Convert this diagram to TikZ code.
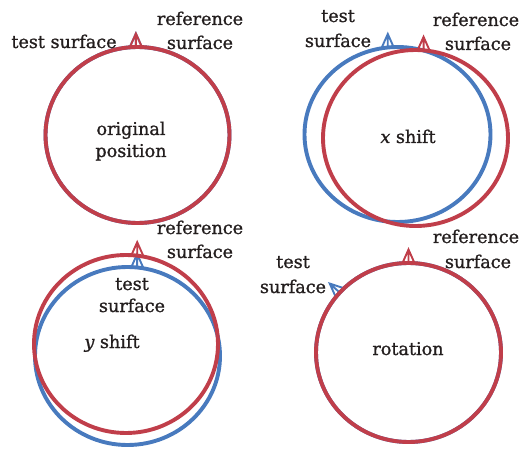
\documentclass[tikz,border=0pt]{standalone}
\usepackage{fontspec}
\setmainfont{DejaVu Serif}[FakeBold=1.1, ItalicFeatures={FakeBold=1.1}]
\definecolor{refred}{RGB}{192,62,74}
\definecolor{testblue}{RGB}{72,122,190}
\definecolor{ink}{RGB}{35,30,30}
\tikzset{
  ring/.style={line width=3.9pt},
  lbl/.style={font=\fontsize{17.6}{24}\selectfont, text=ink, inner sep=0pt, anchor=base},
  tipmark/.pic={\draw[line width=1.9pt, line join=miter]
      (0,0) -- (0,13.5) (-6,0) -- (0,13.5) -- (6,0);}
}
\begin{document}
\begin{tikzpicture}[x=1pt,y=1pt]
\useasboundingbox (0,0) rectangle (522,-449);

% ---- original position ----
\coordinate (tlT) at (137.5,-135);
\coordinate (tlR) at (137.5,-135);
\path (tlT) ++(91:92 and 88) coordinate (tlTm);
\path (tlR) ++(91:92 and 88) coordinate (tlRm);
\draw[ring, testblue] (tlT) ellipse [x radius=92, y radius=88];
\pic[testblue] at (tlTm) {tipmark};
\draw[ring, refred] (tlR) ellipse [x radius=92, y radius=88];
\pic[refred] at (tlRm) {tipmark};
\node[lbl] (tlTl) at (64,-48) {test surface};
\node[lbl] (tlRl1) at (200,-25) {reference};
\node[lbl] (tlRl2) at (200,-49) {surface};
\node[lbl] (tlC1) at (131,-135) {original};
\node[lbl] (tlC2) at (131,-157) {position};

% ---- x shift ----
\coordinate (trT) at (397.5,-134.5);
\coordinate (trR) at (415.5,-138);
\path (trT) ++(96:93 and 87.5) coordinate (trTm);
\path (trR) ++(85:92.5 and 88) coordinate (trRm);
\draw[ring, testblue] (trT) ellipse [x radius=93, y radius=87.5];
\pic[testblue] at (trTm) {tipmark};
\draw[ring, refred] (trR) ellipse [x radius=92.5, y radius=88];
\pic[refred] at (trRm) {tipmark};
\node[lbl] (trTl1) at (338,-22) {test};
\node[lbl] (trTl2) at (338,-47) {surface};
\node[lbl] (trRl1) at (476,-26) {reference};
\node[lbl] (trRl2) at (478,-50) {surface};
\node[lbl] (trC) at (408,-143) {{\itshape x} shift};

% ---- y shift ----
\coordinate (blT) at (127.5,-356);
\coordinate (blR) at (126,-344);
\path (blT) ++(84:92.5 and 89) coordinate (blTm);
\path (blR) ++(83:92 and 89) coordinate (blRm);
\draw[ring, testblue] (blT) ellipse [x radius=92.5, y radius=89];
\pic[testblue] at (blTm) {tipmark};
\draw[ring, refred] (blR) ellipse [x radius=92, y radius=89];
\pic[refred] at (blRm) {tipmark};
\node[lbl] (blRl1) at (200,-234) {reference};
\node[lbl] (blRl2) at (200,-258) {surface};
\node[lbl] (blTl1) at (132,-290) {test};
\node[lbl] (blTl2) at (132,-312) {surface};
\node[lbl] (blC) at (112,-348) {{\itshape y} shift};

% ---- rotation ----
\coordinate (brT) at (408.5,-352.5);
\coordinate (brR) at (408.5,-352.5);
\path (brT) ++(138:92.5 and 89.5) coordinate (brTm);
\path (brR) ++(90:92.5 and 89.5) coordinate (brRm);
\draw[ring, testblue] (brT) ellipse [x radius=92.5, y radius=89.5];
\pic[testblue, rotate=48] at (brTm) {tipmark};
\draw[ring, refred] (brR) ellipse [x radius=92.5, y radius=89.5];
\pic[refred] at (brRm) {tipmark};
\node[lbl] (brRl1) at (476,-243) {reference};
\node[lbl] (brRl2) at (478,-268) {surface};
\node[lbl] (brTl1) at (293,-268) {test};
\node[lbl] (brTl2) at (293,-293) {surface};
\node[lbl] (brC) at (408,-355) {rotation};
\end{tikzpicture}
\end{document}
